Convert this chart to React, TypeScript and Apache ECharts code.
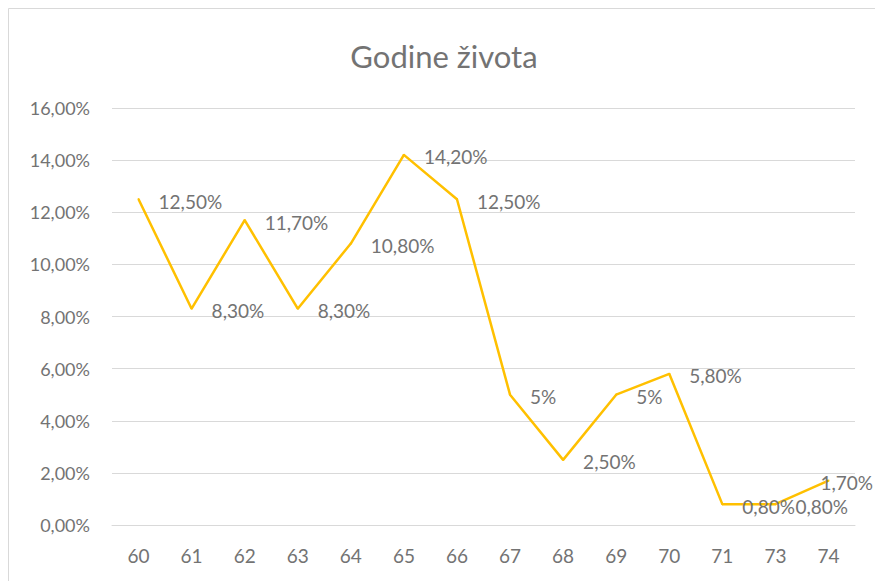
import React, { useEffect, useRef } from "react";
import * as echarts from "echarts";

const categories = ["60", "61", "62", "63", "64", "65", "66", "67", "68", "69", "70", "71", "73", "74"];
const values = [12.5, 8.3, 11.7, 8.3, 10.8, 14.2, 12.5, 5, 2.5, 5, 5.8, 0.8, 0.8, 1.7];
const labelTexts = ["12,50%", "8,30%", "11,70%", "8,30%", "10,80%", "14,20%", "12,50%", "5%", "2,50%", "5%", "5,80%", "0,80%", "0,80%", "1,70%"];
const chartTitle = "Godine života";

const FONT = "Lato, 'Open Sans', sans-serif";
const TEXT = "#737373";

export default function App() {
  const ref = useRef<HTMLDivElement>(null);
  useEffect(() => {
    if (!ref.current) return;
    const chart = echarts.init(ref.current, null, { renderer: "svg" });
    const data = values.map((v, i) => {
      const item: any = { value: v };
      if (i === values.length - 1) {
        item.label = { offset: [-28, 2] };
      }
      return item;
    });
    chart.setOption({
      animation: false,
      backgroundColor: "#ffffff",
      graphic: [
        { type: "line", shape: { x1: 8.5, y1: 8.5, x2: 875, y2: 8.5 }, style: { stroke: "#d9d9d9", lineWidth: 1 } },
        { type: "line", shape: { x1: 8.5, y1: 8.5, x2: 8.5, y2: 581 }, style: { stroke: "#d9d9d9", lineWidth: 1 } },
        {
          type: "text",
          x: 444,
          y: 56,
          style: {
            text: chartTitle,
            fill: TEXT,
            font: `31px ${FONT}`,
            textAlign: "center",
            textVerticalAlign: "middle",
          },
        },
      ],
      grid: { left: 112, right: 20, top: 108, bottom: 56 },
      xAxis: {
        type: "category",
        data: categories,
        boundaryGap: true,
        axisLine: { show: true, lineStyle: { color: "#d9d9d9" } },
        axisTick: { show: false },
        axisLabel: { color: TEXT, fontFamily: FONT, fontSize: 19, margin: 21 },
      },
      yAxis: {
        type: "value",
        min: 0,
        max: 16,
        interval: 2,
        axisLine: { show: false },
        axisTick: { show: false },
        splitLine: { lineStyle: { color: "#d9d9d9", width: 1 } },
        axisLabel: {
          color: TEXT,
          fontFamily: FONT,
          fontSize: 18,
          margin: 22,
          formatter: (v: number) => v.toFixed(2).replace(".", ",") + "%",
        },
      },
      series: [
        {
          type: "line",
          data,
          symbol: "circle",
          symbolSize: 2,
          showSymbol: true,
          showAllSymbol: true,
          lineStyle: { color: "#FFC000", width: 2.5 },
          itemStyle: { color: "#FFC000", borderWidth: 0 },
          label: {
            show: true,
            position: "right",
            distance: 19,
            offset: [0, 2],
            color: TEXT,
            fontFamily: FONT,
            fontSize: 19,
            formatter: (p: any) => labelTexts[p.dataIndex],
          },
        },
      ],
    });
    return () => chart.dispose();
  }, []);
  return <div ref={ref} style={{ position: "absolute", left: 0, top: 0, width: 875, height: 581 }} />;
}
